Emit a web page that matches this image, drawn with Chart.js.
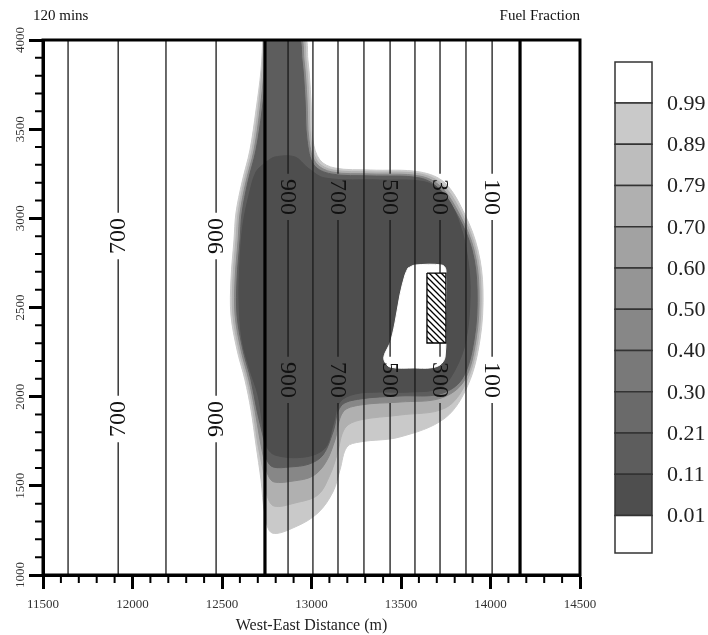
<!DOCTYPE html>
<html>
<head>
<meta charset="utf-8">
<script src="https://cdn.jsdelivr.net/npm/chart.js@4.4.0/dist/chart.umd.min.js"></script>
<style>
html, body { margin: 0; padding: 0; background: #fff; }
#wrap { width: 708px; height: 635px; position: relative; }
</style>
</head>
<body>
<div id="wrap"><canvas id="plot"></canvas></div>
<script>
// axis ticks
const xTickValues = [11500, 12000, 12500, 13000, 13500, 14000, 14500];
const yTickValues = [1000, 1500, 2000, 2500, 3000, 3500, 4000];

// vertical isolines of the background field (x in m)
const isolineX = [11640, 11920, 12187, 12467, 12869, 13008, 13148, 13293, 13439, 13578, 13718, 13863, 14009];
const boldIsolineX = [12740, 14165];
const labelledX = [11920, 12467, 12869, 13148, 13439, 13718, 14009];
const isolineLabels = ['700', '900', '900', '700', '500', '300', '100'];
const labelYWest = [2901, 1875];
const labelYEast = [3120, 2094];
const ridgeX = 12740;

// colour bar levels (top to bottom)
const levelLabels = ['0.99', '0.89', '0.79', '0.70', '0.60', '0.50', '0.40', '0.30', '0.21', '0.11', '0.01'];
const levelShades = ['#ffffff', '#c9c9c9', '#bdbdbd', '#b0b0b0', '#a2a2a2', '#959595', '#878787', '#797979', '#6a6a6a', '#5d5d5d', '#4e4e4e', '#ffffff'];

// fuel fraction contours, [x, y] in m
const contour099 = [[12729,4028],[12953,4028],[12980,3888],[12997,3664],[13008,3439],[13047,3327],[13131,3282],[13327,3271],[13606,3260],[13746,3198],[13858,3019],[13930,2822],[13958,2598],[13941,2318],[13874,2065],[13746,1880],[13494,1774],[13271,1746],[13198,1718],[13159,1589],[13120,1466],[13036,1348],[12908,1269],[12779,1236],[12740,1336],[12718,1533],[12690,1729],[12662,1925],[12628,2094],[12584,2262],[12550,2458],[12550,2654],[12567,2879],[12578,3030],[12612,3204],[12656,3383],[12690,3607],[12718,3832],[12729,4028]];
const contour079 = [[12735,4028],[12942,4028],[12969,3888],[12986,3664],[12997,3439],[13036,3316],[13120,3271],[13327,3260],[13606,3249],[13735,3187],[13846,3013],[13919,2822],[13947,2598],[13930,2318],[13863,2077],[13746,1936],[13494,1897],[13271,1869],[13187,1824],[13142,1673],[13103,1561],[13036,1449],[12908,1404],[12790,1387],[12751,1449],[12729,1589],[12701,1729],[12673,1925],[12639,2094],[12595,2262],[12561,2458],[12561,2654],[12578,2879],[12590,3030],[12623,3204],[12668,3383],[12701,3607],[12724,3832],[12735,4028]];
const contour050 = [[12740,4028],[12930,4028],[12958,3888],[12975,3664],[12986,3439],[13025,3310],[13114,3260],[13327,3249],[13606,3237],[13724,3176],[13835,3007],[13908,2822],[13936,2598],[13919,2318],[13852,2088],[13724,1992],[13494,1970],[13271,1953],[13176,1914],[13131,1757],[13081,1634],[13008,1555],[12897,1527],[12790,1522],[12757,1561],[12735,1645],[12712,1760],[12684,1925],[12650,2094],[12606,2262],[12573,2458],[12573,2654],[12590,2879],[12601,3030],[12634,3204],[12679,3383],[12712,3607],[12735,3832],[12740,4028]];
const contour021 = [[12746,4028],[12919,4028],[12947,3888],[12964,3664],[12975,3439],[13014,3299],[13109,3249],[13327,3238],[13606,3226],[13713,3165],[13824,3002],[13897,2822],[13925,2598],[13908,2318],[13841,2099],[13718,2015],[13494,2004],[13271,1987],[13165,1948],[13120,1802],[13064,1673],[12986,1622],[12880,1606],[12785,1606],[12751,1645],[12740,1729],[12695,1925],[12662,2094],[12617,2262],[12584,2458],[12584,2654],[12601,2879],[12612,3030],[12645,3204],[12690,3383],[12724,3607],[12746,3832],[12746,4028]];
const contour011 = [[12746,3316],[12796,3344],[12908,3344],[12980,3282],[13075,3226],[13383,3215],[13634,3204],[13746,3131],[13830,2963],[13874,2766],[13886,2570],[13863,2318],[13802,2150],[13718,2049],[13550,2026],[13383,2026],[13243,2015],[13159,1970],[13120,1841],[13075,1712],[12964,1662],[12796,1673],[12746,1729],[12723,1869],[12701,2009],[12656,2150],[12612,2318],[12595,2542],[12601,2766],[12617,2963],[12651,3131],[12690,3260],[12746,3316]];
const contour001 = [[13539,2721],[13578,2738],[13729,2738],[13751,2710],[13751,2458],[13746,2222],[13718,2178],[13662,2161],[13578,2161],[13439,2166],[13405,2206],[13411,2245],[13439,2301],[13466,2413],[13494,2570],[13522,2682],[13539,2721]];

// building footprint
const building = [[13645,2693],[13751,2693],[13751,2301],[13645,2301],[13645,2693]];

const SERIF = '"Liberation Serif", "Times New Roman", serif';
const toPts = arr => arr.map(([x, y]) => ({x, y}));

// hatch pattern for the building
const tile = document.createElement('canvas');
tile.width = 6; tile.height = 6;
const tctx = tile.getContext('2d');
tctx.fillStyle = '#fff';
tctx.fillRect(0, 0, 6, 6);
tctx.strokeStyle = '#000';
tctx.lineWidth = 1.3;
tctx.beginPath();
tctx.moveTo(-1, -1); tctx.lineTo(7, 7);
tctx.moveTo(-1, 5); tctx.lineTo(1, 7);
tctx.moveTo(5, -1); tctx.lineTo(7, 1);
tctx.stroke();
const hatch = tctx.createPattern(tile, 'repeat');

const datasets = [];

// plume, outermost first
[[contour099, 1], [contour079, 3], [contour050, 6], [contour021, 9], [contour011, 10], [contour001, 11]].forEach(([c, shade], i) => {
    datasets.push({
        data: toPts(c),
        fill: 'shape',
        backgroundColor: levelShades[shade],
        borderColor: levelShades[shade],
        borderWidth: 1,
        tension: 0.35,
        pointRadius: 0,
        order: 50 - i
    });
});

// isolines, broken where the labels sit
const gapHalf = 130;
isolineX.forEach(x => {
    const pts = [{x, y: 1000}];
    if (labelledX.includes(x)) {
        const ys = (x < ridgeX ? labelYWest : labelYEast).slice().sort((a, b) => a - b);
        ys.forEach(g => {
            pts.push({x, y: g - gapHalf});
            pts.push({x, y: null});
            pts.push({x, y: g + gapHalf});
        });
    }
    pts.push({x, y: 4000});
    datasets.push({
        data: pts,
        borderColor: '#1a1a1a',
        borderWidth: 1.3,
        pointRadius: 0,
        fill: false,
        spanGaps: false,
        order: 10
    });
});

boldIsolineX.forEach(x => {
    datasets.push({
        data: [{x, y: 1000}, {x, y: 4000}],
        borderColor: '#000',
        borderWidth: 3.2,
        pointRadius: 0,
        fill: false,
        order: 9
    });
});

datasets.push({
    data: toPts(building),
    fill: 'shape',
    backgroundColor: hatch,
    borderColor: '#000',
    borderWidth: 1.3,
    tension: 0,
    pointRadius: 0,
    order: 1
});

// labels, frame, minor ticks, colour bar
const decorations = {
    id: 'decorations',
    afterDatasetsDraw(chart) {
        const {ctx, chartArea: a, scales: {x, y}} = chart;
        ctx.save();

        // isoline labels
        ctx.fillStyle = '#111';
        ctx.font = '24px ' + SERIF;
        ctx.textAlign = 'center';
        ctx.textBaseline = 'middle';
        labelledX.forEach((lx, i) => {
            const west = lx < ridgeX;
            (west ? labelYWest : labelYEast).forEach(ly => {
                ctx.save();
                ctx.translate(x.getPixelForValue(lx), y.getPixelForValue(ly));
                ctx.rotate(west ? -Math.PI / 2 : Math.PI / 2);
                ctx.fillText(isolineLabels[i], 0, 1);
                ctx.restore();
            });
        });

        // frame
        ctx.strokeStyle = '#000';
        ctx.lineWidth = 3;
        ctx.strokeRect(a.left, a.top, a.right - a.left, a.bottom - a.top);

        // minor ticks
        ctx.lineWidth = 2;
        ctx.beginPath();
        for (let v = 11600; v < 14500; v += 100) {
            if (v % 500 === 0) continue;
            const px = x.getPixelForValue(v);
            ctx.moveTo(px, a.bottom);
            ctx.lineTo(px, a.bottom + 8);
        }
        for (let v = 1100; v < 4000; v += 100) {
            if (v % 500 === 0) continue;
            const py = y.getPixelForValue(v);
            ctx.moveTo(a.left - 8, py);
            ctx.lineTo(a.left, py);
        }
        ctx.stroke();

        // y tick labels, rotated
        ctx.fillStyle = '#333';
        ctx.font = '13px ' + SERIF;
        yTickValues.forEach(v => {
            ctx.save();
            ctx.translate(21, y.getPixelForValue(v));
            ctx.rotate(-Math.PI / 2);
            ctx.fillText(String(v), 0, 0);
            ctx.restore();
        });

        // header
        ctx.fillStyle = '#111';
        ctx.font = '15px ' + SERIF;
        ctx.textAlign = 'left';
        ctx.fillText('120 mins', 33, 16);
        ctx.textAlign = 'right';
        ctx.fillText('Fuel Fraction', a.right, 16);

        // colour bar
        const bx = 615, bw = 37, top = 62, step = 41.25, bottom = 553;
        const edges = [top];
        for (let i = 0; i < levelLabels.length; i++) edges.push(103 + i * step);
        edges.push(bottom);
        ctx.strokeStyle = '#333';
        ctx.lineWidth = 1.5;
        for (let i = 0; i < levelShades.length; i++) {
            ctx.fillStyle = levelShades[i];
            ctx.fillRect(bx, edges[i], bw, edges[i + 1] - edges[i]);
            ctx.strokeRect(bx, edges[i], bw, edges[i + 1] - edges[i]);
        }
        ctx.fillStyle = '#222';
        ctx.font = '22px ' + SERIF;
        ctx.textAlign = 'left';
        levelLabels.forEach((t, i) => ctx.fillText(t, 667, edges[i + 1] + 1));

        ctx.restore();
    }
};

new Chart(document.getElementById('plot'), {
    type: 'line',
    data: {datasets},
    options: {
        responsive: true,
        maintainAspectRatio: false,
        animation: false,
        layout: {padding: {top: 40, right: 128, left: 0, bottom: 0}},
        plugins: {legend: {display: false}, tooltip: {enabled: false}},
        scales: {
            x: {
                type: 'linear',
                min: 11500,
                max: 14500,
                afterBuildTicks: s => { s.ticks = xTickValues.map(v => ({value: v})); },
                afterFit: s => { s.height = 60; },
                ticks: {
                    color: '#333',
                    font: {family: SERIF, size: 13},
                    padding: 8,
                    maxRotation: 0,
                    callback: v => String(v)
                },
                grid: {drawOnChartArea: false, drawTicks: true, tickLength: 14, tickWidth: 3, tickColor: '#000'},
                border: {display: true, color: '#000', width: 3},
                title: {
                    display: true,
                    text: 'West-East Distance (m)',
                    color: '#222',
                    font: {family: SERIF, size: 16},
                    padding: {top: 0, bottom: 0}
                }
            },
            y: {
                type: 'linear',
                min: 1000,
                max: 4000,
                afterBuildTicks: s => { s.ticks = yTickValues.map(v => ({value: v})); },
                afterFit: s => { s.width = 43; },
                ticks: {color: 'rgba(0,0,0,0)', font: {family: SERIF, size: 13}},
                grid: {drawOnChartArea: false, drawTicks: true, tickLength: 14, tickWidth: 3, tickColor: '#000'},
                border: {display: true, color: '#000', width: 3}
            }
        }
    },
    plugins: [decorations]
});
</script>
</body>
</html>
